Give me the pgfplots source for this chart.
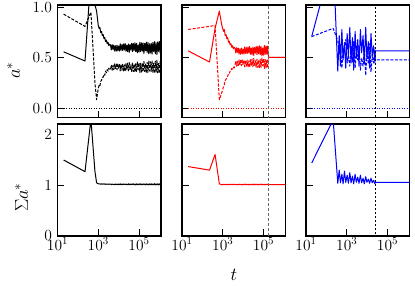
\RequirePackage{fix-cm}
\documentclass[border=0pt]{standalone}
\usepackage{pgfplots}
\pgfplotsset{compat=1.18}
\usepackage{pgfplotstable}

\pgfplotsset{
 myaxbase/.style={scale only axis, width=103.5pt, xmin=10, xmax=1.2e6,
   xtick={10,1000,100000}, xminorticks=false, yminorticks=false,
   tick align=inside, xtick pos=left, ytick pos=left,
   major tick length=7pt, tick style={line width=1pt, black},
   axis line style={line width=1.2pt},
   tick label style={font=\fontsize{15.5}{15.5}\selectfont},
   xticklabel style={yshift=2pt}, yticklabel style={xshift=-2pt},
   clip=true, anchor=south west},
 mytoprow/.style={myaxbase, height=112.5pt, ymin=-0.085, ymax=1.02, ytick={0,0.5,1}, xticklabels={},
   yticklabel style={/pgf/number format/fixed, /pgf/number format/fixed zerofill, /pgf/number format/precision=1}},
 mybotrow/.style={myaxbase, height=112pt, ymin=0, ymax=2.21, ytick={0,1,2}},
 mylnsolid/.style={line width=1pt, line join=round},
 mylndash/.style={line width=1pt, line join=round, dash pattern=on 3pt off 1.5pt},
 mylndot/.style={line width=0.9pt, dash pattern=on 0.9pt off 1.6pt},
}

\pgfplotstableread{
t a1 a2 s
20 0.56 0.93 1.50
224 0.47 0.81 1.27
436 1.30 0.95 2.30
690 1.02 0.25 1.27
830 0.96 0.09 1.05
1000 0.82 0.20 1.03
1100 0.79 0.23 1.03
1200 0.80 0.22 1.03
1320 0.75 0.27 1.02
1450 0.76 0.28 1.03
1580 0.72 0.31 1.02
1740 0.73 0.31 1.03
1910 0.69 0.34 1.02
2090 0.70 0.33 1.03
2290 0.66 0.37 1.02
2510 0.675 0.355 1.025
2750 0.64 0.385 1.02
3020 0.655 0.37 1.025
3310 0.62 0.40 1.02
3630 0.635 0.385 1.025
3.98e3 .627 .383 1.024
4.37e3 .579 .431 1.013
4.79e3 .631 .379 1.026
5.25e3 .584 .426 1.015
5.75e3 .626 .384 1.022
6.31e3 .568 .442 1.011
6.92e3 .620 .390 1.027
7.59e3 .566 .444 1.016
8.32e3 .626 .384 1.023
9.12e3 .570 .440 1.012
1.00e4 .618 .392 1.025
1.10e4 .567 .443 1.014
1.20e4 .638 .372 1.029
1.32e4 .575 .435 1.013
1.45e4 .631 .379 1.024
1.58e4 .572 .438 1.010
1.74e4 .638 .372 1.028
1.91e4 .578 .432 1.015
2.09e4 .642 .368 1.026
2.29e4 .566 .444 1.012
2.51e4 .626 .384 1.023
2.75e4 .561 .449 1.011
3.02e4 .637 .373 1.029
3.31e4 .555 .455 1.014
3.63e4 .632 .378 1.025
3.98e4 .577 .433 1.010
4.37e4 .644 .366 1.027
4.79e4 .562 .448 1.016
5.25e4 .643 .367 1.030
5.75e4 .571 .439 1.012
6.31e4 .649 .361 1.024
6.92e4 .563 .447 1.009
7.59e4 .643 .367 1.028
8.32e4 .551 .459 1.014
9.12e4 .628 .382 1.026
1.00e5 .558 .452 1.011
1.10e5 .653 .357 1.031
1.20e5 .562 .448 1.013
1.32e5 .649 .361 1.025
1.45e5 .567 .443 1.010
1.58e5 .647 .363 1.029
1.74e5 .544 .466 1.015
1.91e5 .643 .367 1.027
2.09e5 .571 .439 1.009
2.29e5 .655 .355 1.030
2.51e5 .553 .457 1.012
2.75e5 .653 .357 1.026
3.02e5 .540 .470 1.008
3.31e5 .639 .371 1.029
3.63e5 .548 .462 1.013
3.98e5 .643 .367 1.031
4.37e5 .537 .473 1.010
4.79e5 .651 .359 1.025
5.25e5 .562 .448 1.012
5.75e5 .661 .349 1.032
6.31e5 .541 .469 1.009
6.92e5 .649 .361 1.027
7.59e5 .533 .477 1.011
8.32e5 .657 .353 1.030
9.12e5 .563 .447 1.008
1.00e6 .662 .348 1.028
1.10e6 .545 .465 1.013
1.20e6 .670 .340 1.031
}\tabblack

\pgfplotstableread{
t a1 a2 s
20 0.57 0.78 1.37
224 0.46 0.81 1.30
420 0.79 0.82 1.61
680 0.96 0.09 1.03
900 0.82 0.16 1.01
1100 0.76 0.22 1.02
1200 0.78 0.24 1.01
1320 0.72 0.28 1.02
1450 0.73 0.29 1.01
1580 0.69 0.31 1.02
1740 0.70 0.32 1.01
1910 0.655 0.345 1.02
2090 0.665 0.345 1.01
2290 0.63 0.37 1.02
2510 0.64 0.37 1.015
2750 0.605 0.395 1.02
3020 0.62 0.39 1.015
3310 0.59 0.41 1.02
3630 0.605 0.40 1.015
3.98e3 .597 .423 1.020
4.37e3 .549 .471 1.012
4.79e3 .601 .419 1.022
5.25e3 .554 .466 1.010
5.75e3 .596 .424 1.018
6.31e3 .538 .482 1.013
6.92e3 .590 .430 1.023
7.59e3 .536 .484 1.011
8.32e3 .596 .424 1.019
9.12e3 .540 .480 1.009
1.00e4 .588 .432 1.021
1.10e4 .537 .483 1.012
1.20e4 .608 .412 1.024
1.32e4 .545 .475 1.010
1.45e4 .601 .419 1.020
1.58e4 .542 .478 1.013
1.74e4 .608 .412 1.022
1.91e4 .548 .472 1.008
2.09e4 .612 .408 1.021
2.29e4 .536 .484 1.011
2.51e4 .596 .424 1.019
2.75e4 .531 .489 1.012
3.02e4 .607 .413 1.024
3.31e4 .525 .495 1.009
3.63e4 .602 .418 1.020
3.98e4 .547 .473 1.013
4.37e4 .614 .406 1.023
4.79e4 .532 .488 1.010
5.25e4 .613 .407 1.021
5.75e4 .541 .479 1.008
6.31e4 .619 .401 1.022
6.92e4 .533 .487 1.012
7.59e4 .613 .407 1.024
8.32e4 .521 .499 1.010
9.12e4 .598 .422 1.019
1.00e5 .528 .492 1.011
1.10e5 .623 .397 1.023
1.20e5 .532 .488 1.009
1.32e5 .619 .401 1.021
1.45e5 .537 .483 1.012
1.58e5 .617 .403 1.022
1.74e5 .514 .506 1.010
1.80e5 .505 .505 1.015
1.20e6 .505 .505 1.015
}\tabred

\pgfplotstableread{
t a1 a2 s
19 0.71 0.71 1.44
215 1.50 0.79 2.29
363 0.37 0.67 1.04
427 0.72 0.55 1.30
490 0.42 0.63 1.05
575 0.78 0.40 1.22
661 0.48 0.58 1.03
776 0.65 0.60 1.28
891 0.40 0.68 1.06
1047 0.74 0.45 1.20
1202 0.52 0.52 1.04
1413 0.80 0.42 1.25
1622 0.45 0.62 1.05
1905 0.70 0.46 1.18
2188 0.38 0.66 1.03
2570 0.76 0.40 1.22
2951 0.50 0.56 1.06
3467 0.68 0.48 1.16
3981 0.42 0.62 1.04
4677 0.78 0.38 1.20
5370 0.55 0.50 1.05
6310 0.72 0.42 1.14
7244 0.44 0.58 1.03
8511 0.80 0.33 1.17
9772 0.50 0.56 1.06
11482 0.66 0.44 1.12
13183 0.40 0.64 1.04
15488 0.74 0.36 1.14
17783 0.52 0.53 1.05
20893 0.62 0.45 1.10
23988 0.45 0.58 1.03
25119 0.57 0.48 1.06
1.2e6 0.57 0.48 1.06
}\tabblue

\begin{document}
\begin{tikzpicture}
\path[use as bounding box] (0,0) rectangle (415pt,285pt);
% column 1
\begin{semilogxaxis}[mytoprow, at={(57.5pt,167.5pt)}]
\addplot[black, mylnsolid] table[x=t,y=a1]{\tabblack};
\addplot[black, mylndash] table[x=t,y=a2]{\tabblack};
\addplot[black, mylndot] coordinates {(20,0) (1.2e6,0)};
\end{semilogxaxis}
\begin{semilogxaxis}[mybotrow, at={(57.5pt,49pt)}]
\addplot[black, mylnsolid] table[x=t,y=s]{\tabblack};
\end{semilogxaxis}
% column 2
\begin{semilogxaxis}[mytoprow, at={(182pt,167.5pt)}, yticklabels={}]
\addplot[red, mylnsolid] table[x=t,y=a1]{\tabred};
\addplot[red, mylndash] table[x=t,y=a2]{\tabred};
\addplot[red, mylndot] coordinates {(20,0) (1.2e6,0)};
\addplot[black!60, line width=1.2pt, dash pattern=on 3.5pt off 1.5pt] coordinates {(1.8e5,-0.2) (1.8e5,1.2)};
\end{semilogxaxis}
\begin{semilogxaxis}[mybotrow, at={(182pt,49pt)}, yticklabels={}]
\addplot[red, mylnsolid] table[x=t,y=s]{\tabred};
\addplot[black!60, line width=1.2pt, dash pattern=on 3.5pt off 1.5pt] coordinates {(1.8e5,-0.2) (1.8e5,2.4)};
\end{semilogxaxis}
% column 3
\begin{semilogxaxis}[mytoprow, at={(306pt,167.5pt)}, yticklabels={}]
\addplot[blue, mylnsolid] table[x=t,y=a1]{\tabblue};
\addplot[blue, mylndash] table[x=t,y=a2]{\tabblue};
\addplot[blue, mylndot] coordinates {(19,0) (1.2e6,0)};
\addplot[black, line width=0.7pt, dash pattern=on 2.5pt off 1.5pt] coordinates {(2.5e4,-0.2) (2.5e4,1.2)};
\end{semilogxaxis}
\begin{semilogxaxis}[mybotrow, at={(306pt,49pt)}, yticklabels={}]
\addplot[blue, mylnsolid] table[x=t,y=s]{\tabblue};
\addplot[black, line width=0.7pt, dash pattern=on 2.5pt off 1.5pt] coordinates {(2.5e4,-0.2) (2.5e4,2.4)};
\end{semilogxaxis}
% labels
\node[rotate=90, anchor=south, inner sep=0pt, font=\fontsize{18.5}{18.5}\selectfont] at (20pt,214.5pt) {$a^*$};
\node[rotate=90, anchor=south, inner sep=0pt, font=\fontsize{18.5}{18.5}\selectfont] at (28pt,87.5pt) {$\Sigma a^*$};
\node[anchor=base, inner sep=0pt, font=\fontsize{18.5}{18.5}\selectfont] at (234pt,5pt) {$t$};
\end{tikzpicture}
\end{document}
